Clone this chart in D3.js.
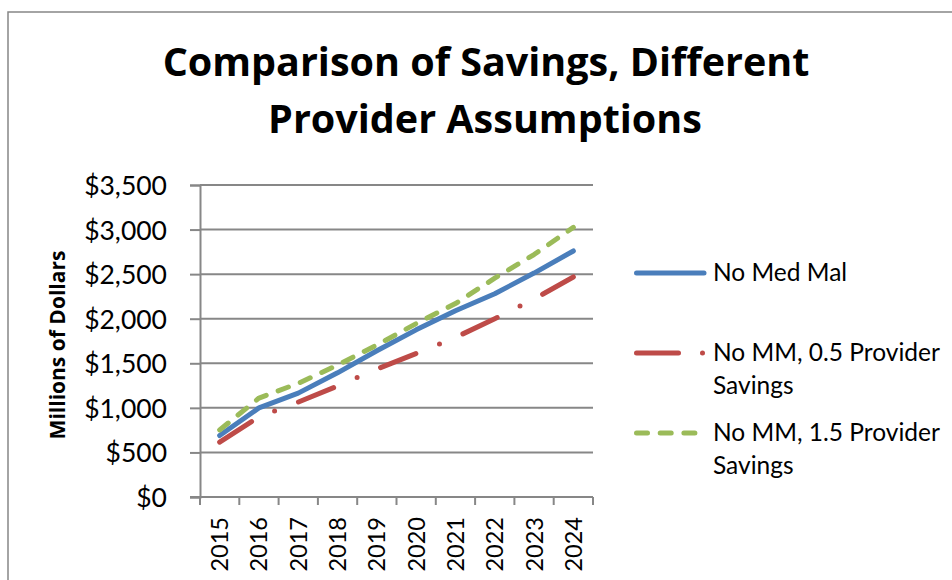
<!DOCTYPE html>
<html>
<head>
<meta charset="utf-8">
<script src="https://cdn.jsdelivr.net/npm/d3@7"></script>
<style>
  body { margin: 0; background: #fff; }
  svg { display: block; font-family: Lato, "Open Sans", sans-serif; }
</style>
</head>
<body>
<div id="chart"></div>
<script>
/****** DATA ******/
var years = [2015, 2016, 2017, 2018, 2019, 2020, 2021, 2022, 2023, 2024];
var noMedMal = [690, 1000, 1165, 1393, 1640, 1875, 2090, 2280, 2512, 2760];
var noMM05 = [615, 900, 1065, 1245, 1435, 1610, 1790, 2000, 2220, 2468];
var noMM15 = [752, 1110, 1275, 1480, 1705, 1945, 2170, 2455, 2720, 3025];
var yTicks = [0, 500, 1000, 1500, 2000, 2500, 3000, 3500];
var seriesNames = ["No Med Mal", "No MM, 0.5 Provider|Savings", "No MM, 1.5 Provider|Savings"];

var W = 952, H = 580;
var plot = {left: 200, right: 593, top: 185, bottom: 497};
var gridColor = "#878787";

var series = [
  {name: seriesNames[0], values: noMedMal, color: "#4a7ebb", dash: null},
  {name: seriesNames[1], values: noMM05, color: "#be4b48", dash: "38,25.5,0,25.5"},
  {name: seriesNames[2], values: noMM15, color: "#9bbb59", dash: "11,12.7"}
];

var svg = d3.select("#chart").append("svg")
  .attr("width", W)
  .attr("height", H);

svg.append("rect").attr("width", W).attr("height", H).attr("fill", "#fff");

// chart border (only left and top are visible)
svg.append("path")
  .attr("d", "M8," + H + "V12H" + W)
  .attr("fill", "none")
  .attr("stroke", gridColor)
  .attr("stroke-width", 1.5);

/****** SCALES ******/
var x = d3.scaleBand()
  .domain(years)
  .range([plot.left, plot.right]);

var y = d3.scaleLinear()
  .domain([0, 3500])
  .range([plot.bottom, plot.top]);

/****** TITLE ******/
svg.append("text")
  .attr("x", 486).attr("y", 76)
  .attr("text-anchor", "middle")
  .style("font-family", "'Open Sans'")
  .style("font-size", "39.5px")
  .style("font-weight", "bold")
  .text("Comparison of Savings, Different");

svg.append("text")
  .attr("x", 485).attr("y", 133)
  .attr("text-anchor", "middle")
  .style("font-family", "'Open Sans'")
  .style("font-size", "39.5px")
  .style("font-weight", "bold")
  .text("Provider Assumptions");

/****** GRIDLINES ******/
svg.append("g")
  .selectAll("line")
  .data(yTicks.slice(1))
  .enter()
  .append("line")
    .attr("x1", plot.left).attr("x2", plot.right)
    .attr("y1", d => y(d)).attr("y2", d => y(d))
    .attr("stroke", gridColor)
    .attr("stroke-width", 2);

/****** AXES ******/
var yAxis = svg.append("g")
  .attr("transform", "translate(" + plot.left + ",0)")
  .call(d3.axisLeft(y).tickValues(yTicks).tickSize(10).tickPadding(23).tickFormat(d3.format("$,")));

yAxis.select(".domain").attr("stroke", gridColor).attr("stroke-width", 2);
yAxis.selectAll(".tick line").attr("stroke", gridColor).attr("stroke-width", 2);
yAxis.selectAll(".tick text")
  .attr("fill", "#000")
  .style("font-family", "Lato")
  .style("font-size", "26.5px")
  .attr("dy", "0.36em");

// x axis line
svg.append("line")
  .attr("x1", plot.left - 10).attr("x2", plot.right)
  .attr("y1", plot.bottom).attr("y2", plot.bottom)
  .attr("stroke", gridColor)
  .attr("stroke-width", 2);

// tick marks sit between categories
svg.append("g")
  .selectAll("line")
  .data(years.concat(["end"]))
  .enter()
  .append("line")
    .attr("x1", d => d === "end" ? plot.right : x(d))
    .attr("x2", d => d === "end" ? plot.right : x(d))
    .attr("y1", plot.bottom).attr("y2", plot.bottom + 8)
    .attr("stroke", gridColor)
    .attr("stroke-width", 2);

svg.append("g")
  .selectAll("text")
  .data(years)
  .enter()
  .append("text")
    .attr("transform", d => "translate(" + (x(d) + x.bandwidth() / 2 + 8.5) + "," + (plot.bottom + 20) + ") rotate(-90)")
    .attr("text-anchor", "end")
    .style("font-size", "23.5px")
    .text(d => d);

// y axis title
svg.append("text")
  .attr("transform", "translate(65,345) rotate(-90)")
  .attr("text-anchor", "middle")
  .style("font-family", "'Open Sans'")
  .style("font-size", "21px")
  .style("font-weight", "bold")
  .text("Millions of Dollars");

/****** LINES ******/
var line = d3.line()
  .x((d, i) => x(years[i]) + x.bandwidth() / 2)
  .y(d => y(d));

svg.append("g")
  .selectAll("path")
  .data(series)
  .enter()
  .append("path")
    .attr("d", d => line(d.values))
    .attr("fill", "none")
    .attr("stroke", d => d.color)
    .attr("stroke-width", 5)
    .attr("stroke-linecap", "round")
    .attr("stroke-linejoin", "round")
    .attr("stroke-dasharray", d => d.dash);

/****** LEGEND ******/
var legendY = [273, 353, 433];
var legend = svg.append("g")
  .selectAll("g")
  .data(series)
  .enter()
  .append("g")
    .attr("transform", (d, i) => "translate(0," + legendY[i] + ")");

legend.append("line")
  .attr("x1", 636.5).attr("x2", 704)
  .attr("y1", 0).attr("y2", 0)
  .attr("stroke", d => d.color)
  .attr("stroke-width", 5)
  .attr("stroke-linecap", "round")
  .attr("stroke-dasharray", (d, i) => i === 1 ? "42,24,0,30" : d.dash);

legend.append("text")
  .attr("x", 713)
  .attr("y", 8)
  .style("font-size", "24.5px")
  .selectAll("tspan")
  .data(d => d.name.split("|"))
  .enter()
  .append("tspan")
    .attr("x", 713)
    .attr("dy", (t, j) => j === 0 ? 0 : 33)
    .text(t => t);
</script>
</body>
</html>
